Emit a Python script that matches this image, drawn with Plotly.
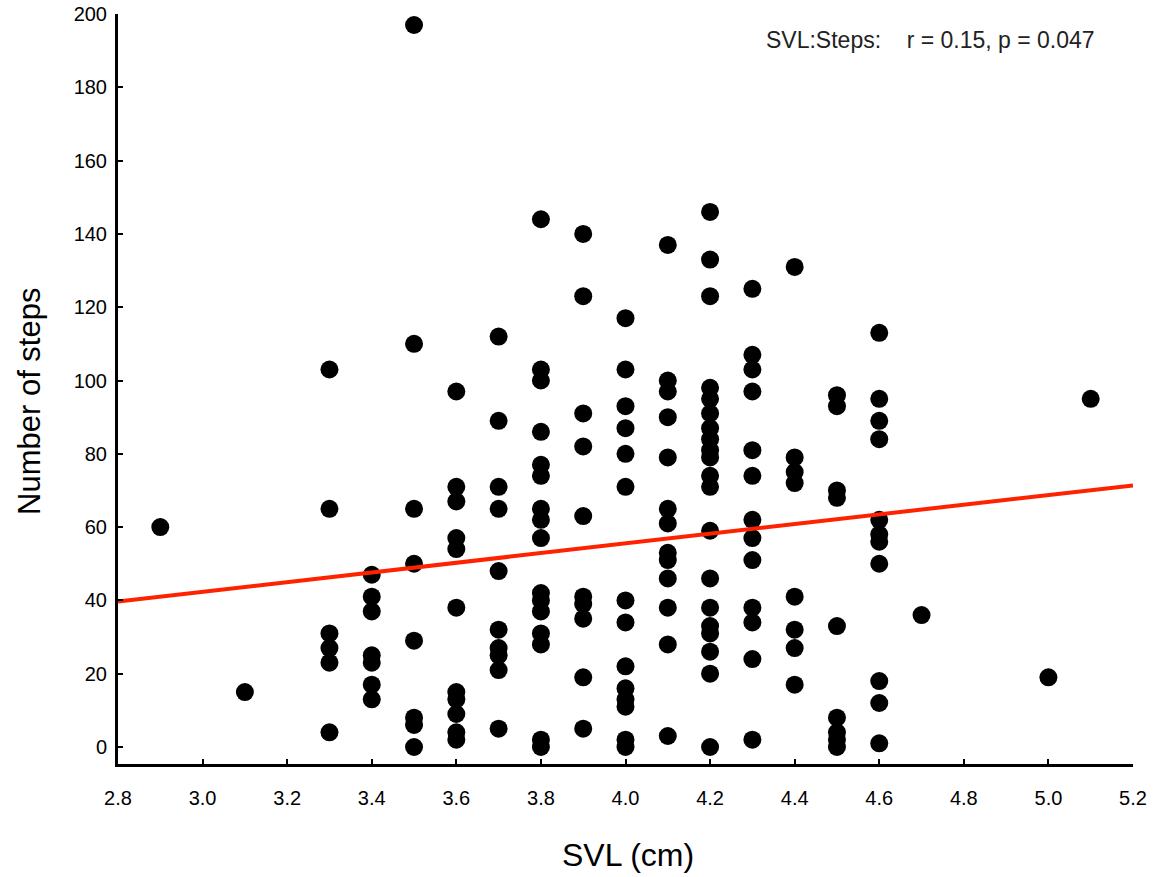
import numpy as np
import plotly.graph_objects as go

# SVL (cm) groups and the number of steps recorded for each animal
svl_groups = [2.9, 3.1, 3.3, 3.4, 3.5, 3.6, 3.7, 3.8, 3.9, 4.0,
              4.1, 4.2, 4.3, 4.4, 4.5, 4.6, 4.7, 5.0, 5.1]
steps_by_group = [
    [60],
    [15],
    [103, 65, 31, 27, 23, 4],
    [47, 41, 37, 25, 23, 17, 13],
    [197, 110, 65, 50, 29, 8, 6, 0],
    [97, 71, 67, 57, 54, 38, 15, 13, 9, 4, 2],
    [112, 89, 71, 65, 48, 32, 27, 25, 21, 5],
    [144, 103, 100, 86, 77, 74, 65, 62, 57, 42, 40, 37, 31, 28, 2, 0],
    [140, 123, 91, 82, 63, 41, 39, 35, 19, 5],
    [117, 103, 93, 87, 80, 71, 40, 34, 22, 16, 13, 11, 2, 0],
    [137, 100, 97, 90, 79, 65, 61, 53, 51, 46, 38, 28, 3],
    [146, 133, 123, 98, 95, 91, 87, 84, 81, 79, 74, 71, 59, 46, 38, 33, 31, 26, 20, 0],
    [125, 107, 103, 97, 81, 74, 62, 57, 51, 38, 34, 24, 2],
    [131, 79, 75, 72, 41, 32, 27, 17],
    [96, 93, 70, 68, 33, 8, 4, 2, 0],
    [113, 95, 89, 84, 62, 58, 56, 50, 18, 12, 1],
    [36],
    [19],
    [95],
]

x_ticks = [2.8, 3.0, 3.2, 3.4, 3.6, 3.8, 4.0, 4.2, 4.4, 4.6, 4.8, 5.0, 5.2]
y_ticks = list(range(0, 201, 20))
stats_label = "SVL:Steps:&nbsp;&nbsp;&nbsp; r = 0.15, p = 0.047"
x_title = "SVL (cm)"
y_title = "Number of steps"

svl = np.concatenate([[g] * len(v) for g, v in zip(svl_groups, steps_by_group)])
steps = np.concatenate([np.array(v, dtype=float) for v in steps_by_group])

# least-squares line across the full x range
slope, intercept = np.polyfit(svl, steps, 1)
line_x = np.array([x_ticks[0], x_ticks[-1]])
line_y = intercept + slope * line_x

fig = go.Figure()
fig.add_trace(go.Scatter(
    x=svl, y=steps, mode="markers",
    marker=dict(size=18, color="black", line=dict(width=0)),
    showlegend=False, cliponaxis=False,
))
fig.add_trace(go.Scatter(
    x=line_x, y=line_y, mode="lines",
    line=dict(color="#ff2200", width=4),
    showlegend=False,
))

fig.add_annotation(
    text=stats_label, xref="paper", yref="paper",
    x=0.965, y=0.965, xanchor="right", yanchor="middle",
    showarrow=False, font=dict(family="Liberation Sans", size=23, color="#222"),
)
# axis titles
fig.add_annotation(
    text=x_title, xref="paper", yref="paper",
    x=0.5025, y=0, yshift=-91, xanchor="center", yanchor="middle",
    showarrow=False, font=dict(family="Liberation Sans", size=32, color="black"),
)
fig.add_annotation(
    text=y_title, xref="paper", yref="paper", textangle=-90,
    x=0, xshift=-88, y=0.4827, xanchor="center", yanchor="middle",
    showarrow=False, font=dict(family="Liberation Sans", size=31, color="black"),
)

fig.update_layout(
    width=1163, height=877,
    margin=dict(l=118, r=30, t=14, b=113),
    paper_bgcolor="white", plot_bgcolor="white",
    font=dict(family="Liberation Sans", color="black"),
)
fig.update_xaxes(
    range=[2.8, 5.2], tickvals=x_ticks, ticktext=[f"{v:.1f}" for v in x_ticks],
    showgrid=False, zeroline=False, showline=True, linecolor="black", linewidth=3,
    ticks="inside", ticklen=5, tickwidth=2, tickcolor="black", automargin=False,
    tickfont=dict(family="Liberation Sans", size=20), ticklabelstandoff=14,
)
fig.update_yaxes(
    range=[-4.64, 200.0], tickvals=y_ticks,
    showgrid=False, zeroline=False, showline=True, linecolor="black", linewidth=3,
    ticks="inside", ticklen=5, tickwidth=2, tickcolor="black", automargin=False,
    tickfont=dict(family="Liberation Sans", size=20), ticklabelstandoff=4,
)

fig.write_html("out.html")
